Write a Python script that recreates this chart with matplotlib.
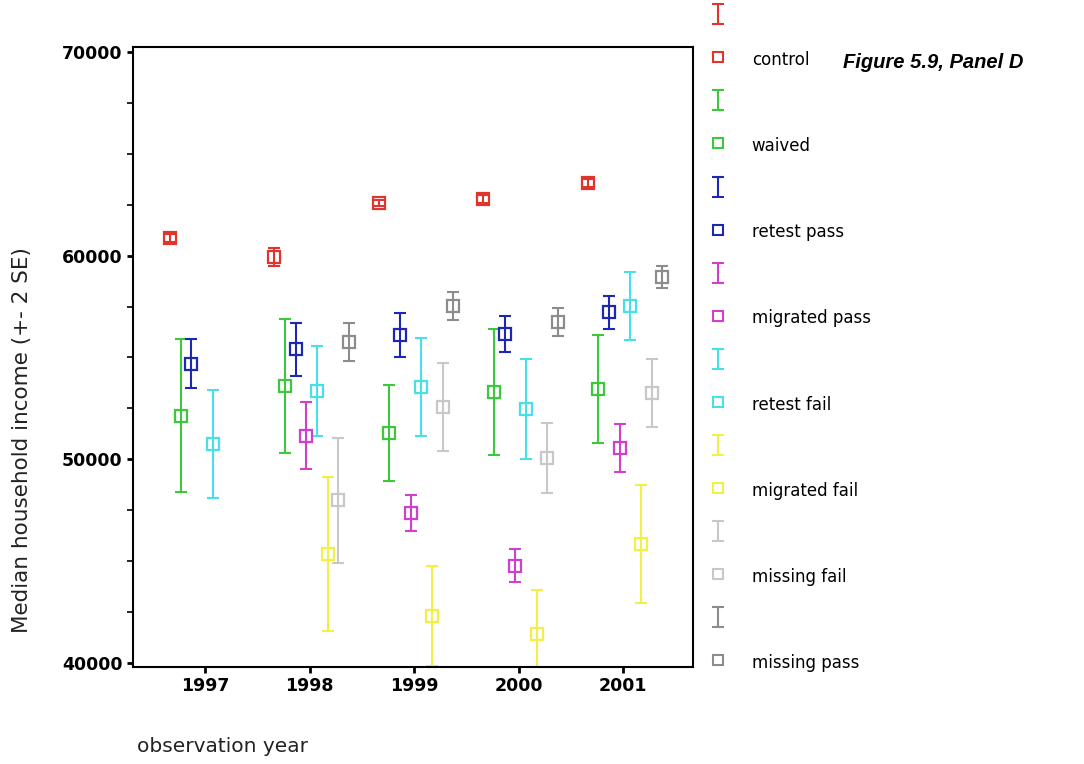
import matplotlib
matplotlib.use("Agg")
import matplotlib.pyplot as plt
from matplotlib.legend_handler import HandlerErrorbar
import numpy as np

years = [1997, 1998, 1999, 2000, 2001]
series_names = ["control", "waived", "retest pass", "migrated pass",
                "retest fail", "migrated fail", "missing fail", "missing pass"]
series_colors = ["#e0342c", "#3cc83c", "#1c28b4", "#d040cc",
                 "#48e0e8", "#f0f048", "#c8c8c8", "#8c8c8c"]

# means (None = no data for that year)
control_mean = [60870, 59940, 62590, 62780, 63570]
waived_mean = [52150, 53600, 51300, 53300, 53450]
retest_pass_mean = [54700, 55400, 56100, 56150, 57230]
migrated_pass_mean = [None, 51150, 47370, 44760, 50560]
retest_fail_mean = [50750, 53350, 53550, 52470, 57530]
migrated_fail_mean = [None, 45350, 42300, 41420, 45840]
missing_fail_mean = [None, 48000, 52570, 50060, 53250]
missing_pass_mean = [None, 55760, 57530, 56740, 58950]

# 2 SE half-widths
control_err = [200, 450, 150, 200, 200]
waived_err = [3780, 3290, 2350, 3090, 2650]
retest_pass_err = [1200, 1300, 1080, 880, 810]
migrated_pass_err = [None, 1650, 880, 810, 1180]
retest_fail_err = [2650, 2200, 2430, 2450, 1650]
migrated_fail_err = [None, 3780, 2450, 2160, 2900]
missing_fail_err = [None, 3070, 2140, 1700, 1670]
missing_pass_err = [None, 930, 710, 690, 560]

means = [control_mean, waived_mean, retest_pass_mean, migrated_pass_mean,
         retest_fail_mean, migrated_fail_mean, missing_fail_mean, missing_pass_mean]
errs = [control_err, waived_err, retest_pass_err, migrated_pass_err,
        retest_fail_err, migrated_fail_err, missing_fail_err, missing_pass_err]

fig = plt.figure(figsize=(10.84, 7.64), dpi=100)
ax = fig.add_axes([0.1227, 0.127, 0.5166, 0.8115])

handles, labels = [], []
for i, (name, col, m, e) in enumerate(zip(series_names, series_colors, means, errs)):
    off = (i - 3.5) * 0.102 + 0.02
    xs = [y + off for y, v in zip(years, m) if v is not None]
    ys = [v for v in m if v is not None]
    es = [v for v in e if v is not None]
    eb = ax.errorbar(xs, ys, yerr=es, fmt='none', ecolor=col, elinewidth=1.5,
                     capsize=4.6, capthick=1.5, zorder=2)
    sq, = ax.plot(xs, ys, linestyle='none', marker='s', markersize=9,
                  markerfacecolor='none', markeredgecolor=col, markeredgewidth=1.6,
                  zorder=3)
    lh, = ax.plot([], [], linestyle='none', marker='s', markersize=7,
                  markerfacecolor='none', markeredgecolor=col, markeredgewidth=1.5)
    handles += [eb, lh]
    labels += ["", name]

ax.set_xlim(1996.31, 2001.67)
ax.set_ylim(39800, 70250)
ax.set_xticks(years)
ax.set_xticklabels([str(y) for y in years])
ax.set_yticks([40000, 50000, 60000, 70000])
ax.set_yticks(np.arange(40000, 70001, 2500), minor=True)
ax.tick_params(axis='both', which='major', direction='out', length=4, width=2,
               labelsize=12.5)
ax.tick_params(axis='y', which='minor', direction='out', length=4, width=1.2)
for lab in ax.get_xticklabels() + ax.get_yticklabels():
    lab.set_fontweight('bold')
for sp in ax.spines.values():
    sp.set_linewidth(1.5)

fig.text(22 / 1084, 1 - 440 / 764, "Median household income (+- 2 SE)",
         rotation=90, ha='center', va='center', fontsize=15.5, color='#222222')
fig.text(137 / 1084, 1 - 747 / 764, "observation year", ha='left', va='center',
         fontsize=14.5, color='#222222')
fig.text(843 / 1084, 1 - 62 / 764, "Figure 5.9, Panel D", ha='left', va='center',
         fontsize=14.5, fontweight='bold', fontstyle='italic',
         family='Liberation Sans')

leg = fig.legend(handles, labels, loc='upper left',
                 bbox_to_anchor=(0.6411, 1.011), bbox_transform=fig.transFigure,
                 frameon=False, fontsize=12, handlelength=1.0, handleheight=1.4,
                 labelspacing=1.43, handletextpad=1.51, borderpad=0.4,
                 handler_map={type(handles[0]): HandlerErrorbar(xerr_size=0.5, yerr_size=0.6)})

fig.savefig("out.png", dpi=100)
